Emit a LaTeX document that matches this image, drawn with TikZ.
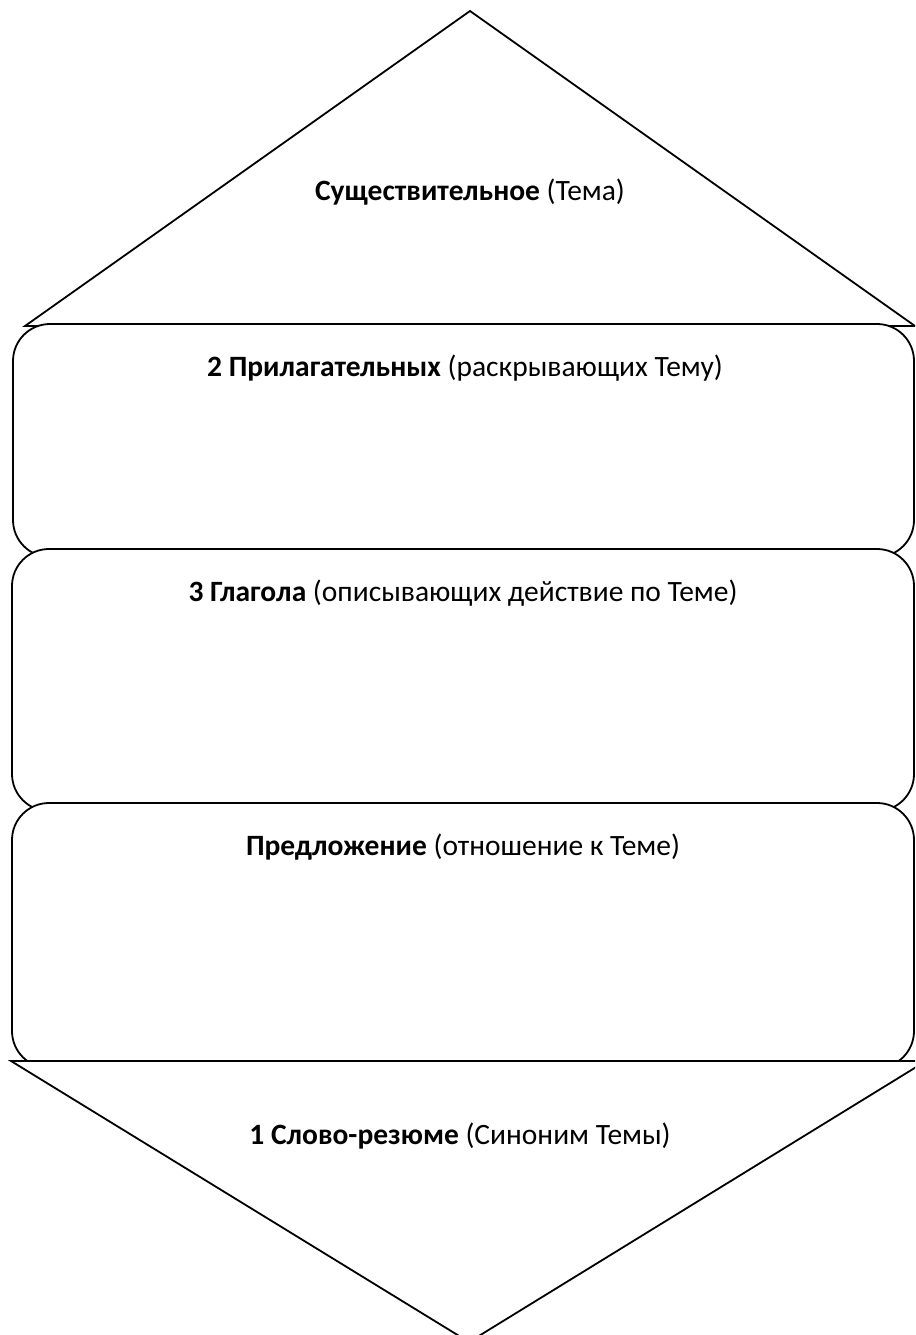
\documentclass[tikz,border=0pt]{standalone}
\usepackage{fontspec}
\setmainfont{Carlito}
\begin{document}
\begin{tikzpicture}[x=1pt,y=-1pt,
  outl/.style={draw=black,line width=1.8pt,fill=white,line join=miter},
  box/.style={outl,rounded corners=37pt},
  lbl/.style={anchor=base,inner sep=0pt,font=\fontsize{29.5}{34}\selectfont}]
\useasboundingbox (0,0) rectangle (915,1335);
\clip (0,0) rectangle (915,1335);
% top triangle
\coordinate (ta) at (470,11);
\coordinate (tl) at (25,326);
\coordinate (tr) at (915,326);
\draw[outl] (tl) -- (ta) -- (tr) -- cycle;
% boxes
\draw[box] (13,324) rectangle (914,557);
\draw[box] (12,549) rectangle (914,811);
\draw[box] (12,803) rectangle (914,1068);
% bottom triangle
\coordinate (bl) at (11,1061);
\coordinate (br) at (926,1061);
\coordinate (bb) at (469,1342);
\draw[outl] (bl) -- (br) -- (bb) -- cycle;
% labels
\node[lbl] (t1) at (470,200) {\textbf{Существительное} (Тема)};
\node[lbl] (t2) at (465,376) {\textbf{2 Прилагательных} (раскрывающих Тему)};
\node[lbl] (t3) at (463,601) {\textbf{3 Глагола} (описывающих действие по Теме)};
\node[lbl] (t4) at (463,855) {\textbf{Предложение} (отношение к Теме)};
\node[lbl] (t5) at (460,1144) {\textbf{1 Слово-резюме} (Синоним Темы)};
\end{tikzpicture}
\end{document}
